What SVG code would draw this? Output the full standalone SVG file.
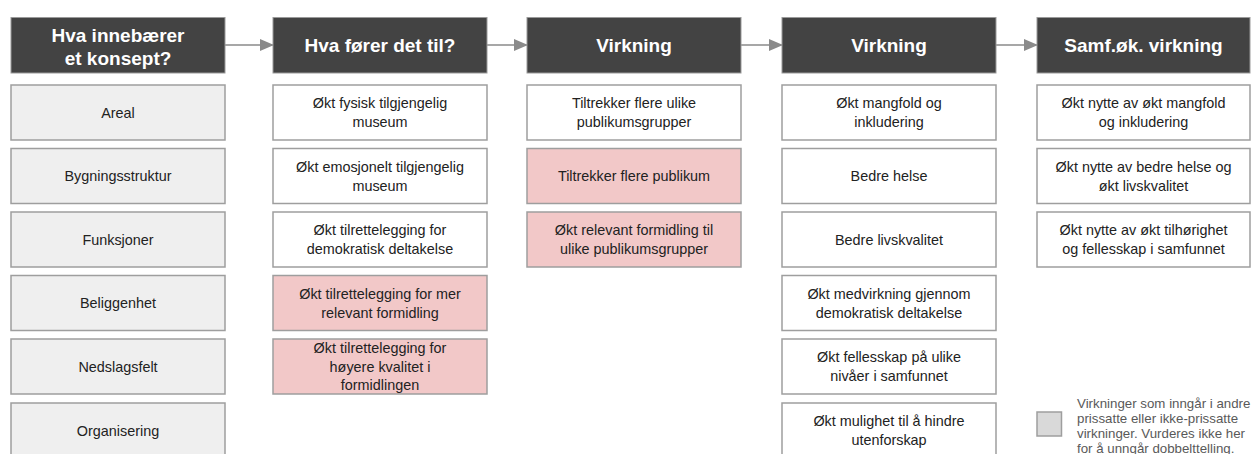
<svg xmlns="http://www.w3.org/2000/svg" width="1254" height="454" viewBox="0 0 1254 454">
<defs>
<style>
.hdr{fill:#434343;stroke:#9a9a9a;stroke-width:1}
.ht{font-family:"Liberation Sans",Arial,sans-serif;font-weight:bold;font-size:19px;fill:#ffffff;text-anchor:middle}
.b{stroke:#9e9e9e;stroke-width:1.5}
.w{fill:#ffffff}
.g{fill:#efefef}
.p{fill:#f2c8c8}
.t{font-family:"Liberation Sans",Arial,sans-serif;font-size:14.4px;fill:#222222;text-anchor:middle}
.lg{font-family:"Liberation Sans",Arial,sans-serif;font-size:13.3px;fill:#595959}
.c{stroke:#8a8a8a;stroke-width:1.5;fill:none}
</style>
<marker id="ah" markerWidth="14" markerHeight="12" refX="13" refY="6" orient="auto" markerUnits="userSpaceOnUse">
<path d="M0,0 L14,6 L0,12 Z" fill="#8a8a8a"/>
</marker>
</defs>
<rect width="1254" height="454" fill="#ffffff"/>
<g id="connectors">
<line class="c" x1="225" y1="45" x2="273" y2="45" marker-end="url(#ah)"/>
<line class="c" x1="487" y1="45" x2="527" y2="45" marker-end="url(#ah)"/>
<line class="c" x1="741" y1="45" x2="782" y2="45" marker-end="url(#ah)"/>
<line class="c" x1="996" y1="45" x2="1037" y2="45" marker-end="url(#ah)"/>
</g>
<g id="h1"><rect class="hdr" x="11" y="17.5" width="214" height="55.5"/><text class="ht" x="118" y="41.5">Hva innebærer</text><text class="ht" x="118" y="64.5">et konsept?</text></g>
<g id="h2"><rect class="hdr" x="273" y="17.5" width="214" height="55.5"/><text class="ht" x="380" y="52">Hva fører det til?</text></g>
<g id="h3"><rect class="hdr" x="527" y="17.5" width="214" height="55.5"/><text class="ht" x="634" y="52">Virkning</text></g>
<g id="h4"><rect class="hdr" x="782" y="17.5" width="214" height="55.5"/><text class="ht" x="889" y="52">Virkning</text></g>
<g id="h5"><rect class="hdr" x="1037" y="17.5" width="213" height="55.5"/><text class="ht" x="1143.5" y="52">Samf.øk. virkning</text></g>

<g id="c1r1"><rect class="b g" x="11" y="85" width="214" height="55"/><text class="t" x="118" y="117.5">Areal</text></g>
<g id="c1r2"><rect class="b g" x="11" y="148.5" width="214" height="55"/><text class="t" x="118" y="181">Bygningsstruktur</text></g>
<g id="c1r3"><rect class="b g" x="11" y="212" width="214" height="55"/><text class="t" x="118" y="244.5">Funksjoner</text></g>
<g id="c1r4"><rect class="b g" x="11" y="275.5" width="214" height="55"/><text class="t" x="118" y="308">Beliggenhet</text></g>
<g id="c1r5"><rect class="b g" x="11" y="339" width="214" height="55"/><text class="t" x="118" y="371.5">Nedslagsfelt</text></g>
<g id="c1r6"><rect class="b g" x="11" y="403" width="214" height="55"/><text class="t" x="118" y="435.5">Organisering</text></g>

<g id="c2r1"><rect class="b w" x="273" y="85" width="214" height="55"/><text class="t" x="380" y="108">Økt fysisk tilgjengelig</text><text class="t" x="380" y="127">museum</text></g>
<g id="c2r2"><rect class="b w" x="273" y="148.5" width="214" height="55"/><text class="t" x="380" y="171.5">Økt emosjonelt tilgjengelig</text><text class="t" x="380" y="190.5">museum</text></g>
<g id="c2r3"><rect class="b w" x="273" y="212" width="214" height="55"/><text class="t" x="380" y="235">Økt tilrettelegging for</text><text class="t" x="380" y="254">demokratisk deltakelse</text></g>
<g id="c2r4"><rect class="b p" x="273" y="275.5" width="214" height="55"/><text class="t" x="380" y="298.5">Økt tilrettelegging for mer</text><text class="t" x="380" y="317.5">relevant formidling</text></g>
<g id="c2r5"><rect class="b p" x="273" y="339" width="214" height="55"/><text class="t" x="380" y="353">Økt tilrettelegging for</text><text class="t" x="380" y="371.5">høyere kvalitet i</text><text class="t" x="380" y="390">formidlingen</text></g>

<g id="c3r1"><rect class="b w" x="527" y="85" width="214" height="55"/><text class="t" x="634" y="108">Tiltrekker flere ulike</text><text class="t" x="634" y="127">publikumsgrupper</text></g>
<g id="c3r2"><rect class="b p" x="527" y="148.5" width="214" height="55"/><text class="t" x="634" y="181">Tiltrekker flere publikum</text></g>
<g id="c3r3"><rect class="b p" x="527" y="212" width="214" height="55"/><text class="t" x="634" y="235">Økt relevant formidling til</text><text class="t" x="634" y="254">ulike publikumsgrupper</text></g>

<g id="c4r1"><rect class="b w" x="782" y="85" width="214" height="55"/><text class="t" x="889" y="108">Økt mangfold og</text><text class="t" x="889" y="127">inkludering</text></g>
<g id="c4r2"><rect class="b w" x="782" y="148.5" width="214" height="55"/><text class="t" x="889" y="181">Bedre helse</text></g>
<g id="c4r3"><rect class="b w" x="782" y="212" width="214" height="55"/><text class="t" x="889" y="244.5">Bedre livskvalitet</text></g>
<g id="c4r4"><rect class="b w" x="782" y="275.5" width="214" height="55"/><text class="t" x="889" y="298.5">Økt medvirkning gjennom</text><text class="t" x="889" y="317.5">demokratisk deltakelse</text></g>
<g id="c4r5"><rect class="b w" x="782" y="339" width="214" height="55"/><text class="t" x="889" y="362">Økt fellesskap på ulike</text><text class="t" x="889" y="381">nivåer i samfunnet</text></g>
<g id="c4r6"><rect class="b w" x="782" y="403" width="214" height="55"/><text class="t" x="889" y="426">Økt mulighet til å hindre</text><text class="t" x="889" y="445">utenforskap</text></g>

<g id="c5r1"><rect class="b w" x="1037" y="85" width="213" height="55"/><text class="t" x="1143.5" y="108">Økt nytte av økt mangfold</text><text class="t" x="1143.5" y="127">og inkludering</text></g>
<g id="c5r2"><rect class="b w" x="1037" y="148.5" width="213" height="55"/><text class="t" x="1143.5" y="171.5">Økt nytte av bedre helse og</text><text class="t" x="1143.5" y="190.5">økt livskvalitet</text></g>
<g id="c5r3"><rect class="b w" x="1037" y="212" width="213" height="55"/><text class="t" x="1143.5" y="235">Økt nytte av økt tilhørighet</text><text class="t" x="1143.5" y="254">og fellesskap i samfunnet</text></g>

<g id="legend"><rect x="1037" y="412" width="24.5" height="24" fill="#d9d9d9" stroke="#9e9e9e" stroke-width="1.5"/>
<text class="lg" x="1077" y="407.5">Virkninger som inngår i andre</text>
<text class="lg" x="1077" y="422.5">prissatte eller ikke-prissatte</text>
<text class="lg" x="1077" y="437.5">virkninger. Vurderes ikke her</text>
<text class="lg" x="1077" y="452.5">for å unngår dobbelttelling.</text></g>
</svg>
